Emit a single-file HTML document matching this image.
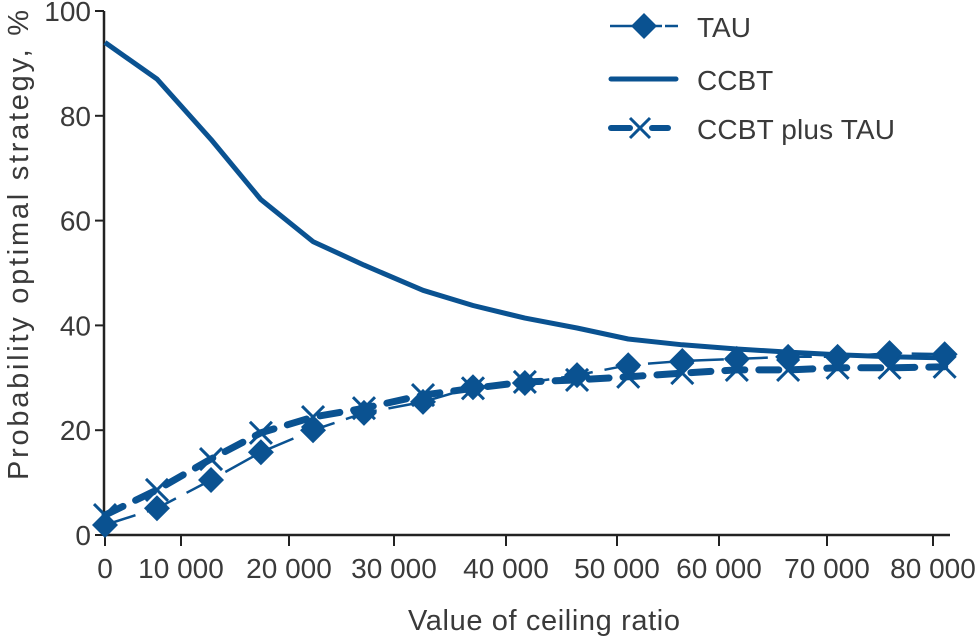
<!DOCTYPE html>
<html><head><meta charset="utf-8"><style>
html,body{margin:0;padding:0;background:#fff;}
svg{display:block;font-family:"Liberation Sans",sans-serif;}
</style></head><body>
<svg id="chart" width="980" height="640" viewBox="0 0 980 640" xmlns="http://www.w3.org/2000/svg">
<g id="axes"></g>
<g id="series"></g>
<g id="legend"></g>
<text x="544" y="630" text-anchor="middle" font-size="29" fill="#3a3a3a" textLength="272">Value of ceiling ratio</text>
<text transform="translate(28,245) rotate(-90)" text-anchor="middle" font-size="29" fill="#3a3a3a" textLength="470">Probability optimal strategy, %</text>
</svg>
<script>
const xTicks = [0,10000,20000,30000,40000,50000,60000,70000,80000];
const xTickLabels = ["0","10 000","20 000","30 000","40 000","50 000","60 000","70 000","80 000"];
const yTicks = [0,20,40,60,80,100];
const xValues = [0,6840,12780,17400,22290,27140,32590,37050,41700,46400,51100,56400,61650,66400,71000,75900,81100];
const tauValues = [1.9,5.1,10.5,15.8,20,23.3,25.4,28.2,29,30.5,32.4,33.2,33.6,34,34,34.7,34.5];
const ccbtValues = [94,87,75.5,64,56,51.5,46.7,43.8,41.4,39.5,37.4,36.3,35.5,34.9,34.4,34,33.8];
const comboValues = [3.8,8.6,14.5,19.5,22.5,24.2,26.7,28,29.2,29.6,30.2,30.9,31.5,31.5,31.9,31.9,32.1];
const seriesNames = ["TAU","CCBT","CCBT plus TAU"];

const NS="http://www.w3.org/2000/svg";
const COLOR="#0a5291";
const xRange=[105,181,289,394,506,617,719,827,933];
function xs(v){
  let i=0;
  while(i<xTicks.length-2 && v>xTicks[i+1]) i++;
  const t=(v-xTicks[i])/(xTicks[i+1]-xTicks[i]);
  return xRange[i]+t*(xRange[i+1]-xRange[i]);
}
const Y0=535,Y1=11;
function ys(v){return Y0-(v/100)*(Y0-Y1);}
function mk(tag,attrs,parent){const e=document.createElementNS(NS,tag);for(const k in attrs)e.setAttribute(k,attrs[k]);parent.appendChild(e);return e;}

const axes=document.getElementById('axes');
let e=mk('line',{x1:104,y1:Y1,x2:104,y2:Y0+1,stroke:'#222','stroke-width':2.5},axes);


e=mk('line',{x1:103,y1:Y0,x2:950,y2:Y0,stroke:'#222','stroke-width':2.5},axes);


yTicks.forEach(v=>{
  const y=ys(v);
  const t=mk('line',{x1:95,y1:y,x2:104,y2:y,stroke:'#222','stroke-width':2},axes);
  
  
  const l=mk('text',{x:91,y:y+10,'text-anchor':'end','font-size':28,fill:'#3a3a3a'},axes);
  l.textContent=String(v);
  
  
});
xTicks.forEach((v,i)=>{
  const x=xs(v);
  const t=mk('line',{x1:x,y1:Y0,x2:x,y2:Y0+11,stroke:'#222','stroke-width':2},axes);
  
  
  const l=mk('text',{x:x,y:578,'text-anchor':'middle','font-size':28,fill:'#3a3a3a'},axes);
  l.textContent=xTickLabels[i];
  
  
});

const series=document.getElementById('series');
function pts(vals){return xValues.map((x,i)=>xs(x).toFixed(1)+','+ys(vals[i]).toFixed(1)).join(' ');}
function diamond(g,cx,cy,r){return mk('polygon',{points:`${cx},${cy-r} ${cx+r},${cy} ${cx},${cy+r} ${cx-r},${cy}`,fill:COLOR},g);}
function cross(g,cx,cy,r){return mk('path',{d:`M${cx-r},${cy-r}L${cx+r},${cy+r}M${cx-r},${cy+r}L${cx+r},${cy-r}`,stroke:COLOR,'stroke-width':3,fill:'none'},g);}

e=mk('polyline',{points:pts(ccbtValues),fill:'none',stroke:COLOR,'stroke-width':5,'stroke-linejoin':'round'},series);



e=mk('polyline',{points:pts(tauValues),fill:'none',stroke:COLOR,'stroke-width':2.5,'stroke-dasharray':'32 12'},series);


xValues.forEach((x,i)=>{
  const d=diamond(series,xs(x),ys(tauValues[i]),13);
  
  
});

e=mk('polyline',{points:pts(comboValues),fill:'none',stroke:COLOR,'stroke-width':7,'stroke-dasharray':'20 14','stroke-linecap':'round'},series);


xValues.forEach((x,i)=>{
  const c=cross(series,xs(x),ys(comboValues[i]),11);
  
  
});

const legend=document.getElementById('legend');
let g=mk('g',{},legend);


mk('line',{x1:610,y1:26,x2:662,y2:26,stroke:COLOR,'stroke-width':2.5},g);
mk('line',{x1:665,y1:26,x2:678,y2:26,stroke:COLOR,'stroke-width':2.5},g);
diamond(g,644,26,13);
let t=mk('text',{x:697,y:37,'font-size':28,fill:'#3a3a3a'},g);t.textContent=seriesNames[0];
g=mk('g',{},legend);


mk('line',{x1:611,y1:79,x2:676,y2:79,stroke:COLOR,'stroke-width':5,'stroke-linecap':'round'},g);
t=mk('text',{x:697,y:90,'font-size':28,fill:'#3a3a3a'},g);t.textContent=seriesNames[1];
g=mk('g',{},legend);


mk('line',{x1:611,y1:128,x2:630,y2:128,stroke:COLOR,'stroke-width':6,'stroke-linecap':'round'},g);
mk('line',{x1:652,y1:128,x2:668,y2:128,stroke:COLOR,'stroke-width':6,'stroke-linecap':'round'},g);
cross(g,640,128,10);
t=mk('text',{x:697,y:139,'font-size':28,fill:'#3a3a3a',textLength:198},g);t.textContent=seriesNames[2];
</script>
</body></html>
